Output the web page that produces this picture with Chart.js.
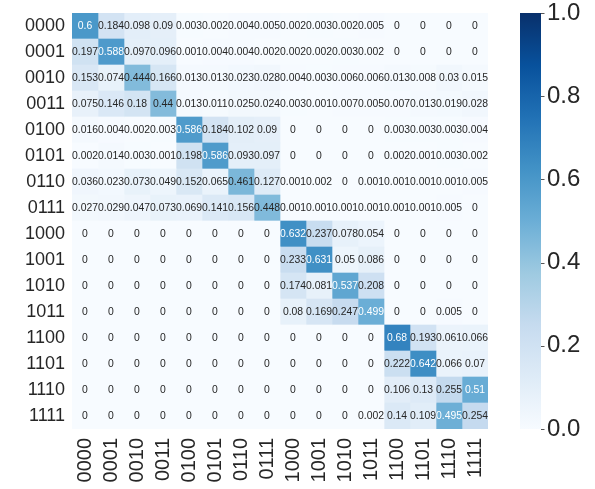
<!DOCTYPE html>
<html>
<head>
<meta charset="utf-8">
<script src="https://cdn.jsdelivr.net/npm/chart.js@4.4.0/dist/chart.umd.min.js"></script>
<style>
  html, body { margin: 0; padding: 0; background: #fff; }
  #wrap { width: 595px; height: 489px; }
</style>
</head>
<body>
<div id="wrap"><canvas id="heat"></canvas></div>
<script>
// class labels (rows = true, columns = predicted)
const classes = ["0000", "0001", "0010", "0011", "0100", "0101", "0110", "0111",
                 "1000", "1001", "1010", "1011", "1100", "1101", "1110", "1111"];

const r0000 = [0.6, 0.184, 0.098, 0.09, 0.003, 0.002, 0.004, 0.005, 0.002, 0.003, 0.002, 0.005, 0, 0, 0, 0];
const r0001 = [0.197, 0.588, 0.097, 0.096, 0.001, 0.004, 0.004, 0.002, 0.002, 0.002, 0.003, 0.002, 0, 0, 0, 0];
const r0010 = [0.153, 0.074, 0.444, 0.166, 0.013, 0.013, 0.023, 0.028, 0.004, 0.003, 0.006, 0.006, 0.013, 0.008, 0.03, 0.015];
const r0011 = [0.075, 0.146, 0.18, 0.44, 0.013, 0.011, 0.025, 0.024, 0.003, 0.001, 0.007, 0.005, 0.007, 0.013, 0.019, 0.028];
const r0100 = [0.016, 0.004, 0.002, 0.003, 0.586, 0.184, 0.102, 0.09, 0, 0, 0, 0, 0.003, 0.003, 0.003, 0.004];
const r0101 = [0.002, 0.014, 0.003, 0.001, 0.198, 0.586, 0.093, 0.097, 0, 0, 0, 0, 0.002, 0.001, 0.003, 0.002];
const r0110 = [0.036, 0.023, 0.073, 0.049, 0.152, 0.065, 0.461, 0.127, 0.001, 0.002, 0, 0.001, 0.001, 0.001, 0.001, 0.005];
const r0111 = [0.027, 0.029, 0.047, 0.073, 0.069, 0.141, 0.156, 0.448, 0.001, 0.001, 0.001, 0.001, 0.001, 0.001, 0.005, 0];
const r1000 = [0, 0, 0, 0, 0, 0, 0, 0, 0.632, 0.237, 0.078, 0.054, 0, 0, 0, 0];
const r1001 = [0, 0, 0, 0, 0, 0, 0, 0, 0.233, 0.631, 0.05, 0.086, 0, 0, 0, 0];
const r1010 = [0, 0, 0, 0, 0, 0, 0, 0, 0.174, 0.081, 0.537, 0.208, 0, 0, 0, 0];
const r1011 = [0, 0, 0, 0, 0, 0, 0, 0, 0.08, 0.169, 0.247, 0.499, 0, 0, 0.005, 0];
const r1100 = [0, 0, 0, 0, 0, 0, 0, 0, 0, 0, 0, 0, 0.68, 0.193, 0.061, 0.066];
const r1101 = [0, 0, 0, 0, 0, 0, 0, 0, 0, 0, 0, 0, 0.222, 0.642, 0.066, 0.07];
const r1110 = [0, 0, 0, 0, 0, 0, 0, 0, 0, 0, 0, 0, 0.106, 0.13, 0.255, 0.51];
const r1111 = [0, 0, 0, 0, 0, 0, 0, 0, 0, 0, 0, 0.002, 0.14, 0.109, 0.495, 0.254];

const matrix = [r0000, r0001, r0010, r0011, r0100, r0101, r0110, r0111,
                r1000, r1001, r1010, r1011, r1100, r1101, r1110, r1111];

const cbTicks = [0, 0.2, 0.4, 0.6, 0.8, 1.0];

// matplotlib "Blues"
const bluesStops = [
  [247, 251, 255], [222, 235, 247], [198, 219, 239], [158, 202, 225],
  [107, 174, 214], [66, 146, 198], [33, 113, 181], [8, 81, 156], [8, 48, 107]
];

function bluesRgb(v) {
  v = Math.max(0, Math.min(1, v));
  const p = v * (bluesStops.length - 1);
  const i = Math.min(Math.floor(p), bluesStops.length - 2);
  const t = p - i;
  const a = bluesStops[i], b = bluesStops[i + 1];
  return [0, 1, 2].map(k => a[k] + (b[k] - a[k]) * t);
}
function blues(v) {
  const c = bluesRgb(v);
  return "rgb(" + c.map(Math.round).join(",") + ")";
}
function luminance(v) {
  const c = bluesRgb(v).map(x => {
    x = x / 255;
    return x <= 0.03928 ? x / 12.92 : Math.pow((x + 0.055) / 1.055, 2.4);
  });
  return 0.2126 * c[0] + 0.7152 * c[1] + 0.0722 * c[2];
}

const textColor = "#262626";
const fontFam = "'Liberation Sans', Arial, sans-serif";

// one stacked dataset per predicted column, each cell is one unit wide
const datasets = classes.map((col, j) => ({
  label: col,
  data: matrix.map(() => 1),
  backgroundColor: ctx => blues(matrix[ctx.dataIndex][j]),
  borderWidth: 0,
  barPercentage: 1,
  categoryPercentage: 1
}));

const annotate = {
  id: "annotate",
  afterDatasetsDraw(chart) {
    const { ctx, scales: { x, y } } = chart;
    ctx.save();
    ctx.font = "10.4px " + fontFam;
    ctx.textAlign = "center";
    ctx.textBaseline = "middle";
    matrix.forEach((row, i) => {
      row.forEach((v, j) => {
        ctx.fillStyle = luminance(v) < 0.408 ? "#ffffff" : textColor;
        ctx.fillText(String(v), x.getPixelForValue(j + 0.5), y.getPixelForValue(i) + 0.5);
      });
    });
    ctx.restore();
  }
};

const colorbar = {
  id: "colorbar",
  afterDraw(chart) {
    const { ctx, chartArea, scales: { cb } } = chart;
    const x0 = chartArea.right + 32, x1 = chartArea.right + 53;
    const yTop = cb.getPixelForValue(1), yBot = cb.getPixelForValue(0);
    const grad = ctx.createLinearGradient(0, yBot, 0, yTop);
    bluesStops.forEach((c, k) => grad.addColorStop(k / (bluesStops.length - 1), "rgb(" + c.join(",") + ")"));
    ctx.save();
    ctx.fillStyle = grad;
    ctx.fillRect(x0, yTop, x1 - x0, yBot - yTop);
    ctx.strokeStyle = "#555";
    ctx.lineWidth = 1;
    cbTicks.forEach(t => {
      const py = Math.round(cb.getPixelForValue(t)) + 0.5;
      ctx.beginPath();
      ctx.moveTo(x1, py);
      ctx.lineTo(x1 + 3.5, py);
      ctx.stroke();
    });
    ctx.restore();
  }
};

// vertical axes add tick padding above/below; drop it so the grid keeps its place
function noVPad(axis) {
  axis.paddingTop = 0;
  axis.paddingBottom = 0;
}

new Chart(document.getElementById("heat"), {
  type: "bar",
  data: { labels: classes, datasets: datasets },
  options: {
    indexAxis: "y",
    responsive: true,
    maintainAspectRatio: false,
    animation: false,
    layout: { padding: { top: 13, left: 0, right: 0, bottom: 0 } },
    plugins: { legend: { display: false }, tooltip: { enabled: false } },
    scales: {
      x: {
        type: "linear",
        stacked: true,
        min: 0,
        max: 16,
        grid: { display: false, drawTicks: false },
        border: { display: false },
        afterBuildTicks: axis => { axis.ticks = classes.map((c, i) => ({ value: i + 0.5 })); },
        afterFit: axis => { axis.height = 60; axis.paddingLeft = 0; axis.paddingRight = 0; },
        ticks: {
          autoSkip: false,
          maxRotation: 90,
          minRotation: 90,
          padding: 9,
          color: textColor,
          font: { size: 20, family: fontFam },
          callback: (v, i) => classes[i]
        }
      },
      y: {
        stacked: true,
        grid: { display: false, drawTicks: false },
        border: { display: false },
        afterFit: axis => { axis.width = 72; noVPad(axis); },
        ticks: {
          autoSkip: false,
          padding: 7,
          color: textColor,
          font: { size: 18, family: fontFam }
        }
      },
      cb: {
        type: "linear",
        position: "right",
        axis: "y",
        offset: false,
        min: 0,
        max: 1,
        grid: { display: false, drawTicks: false },
        border: { display: false },
        afterBuildTicks: axis => { axis.ticks = cbTicks.map(v => ({ value: v })); },
        afterFit: axis => { axis.width = 107; noVPad(axis); },
        ticks: {
          padding: 59,
          color: textColor,
          font: { size: 24, family: fontFam },
          callback: v => v.toFixed(1)
        }
      }
    }
  },
  plugins: [annotate, colorbar]
});
</script>
</body>
</html>
